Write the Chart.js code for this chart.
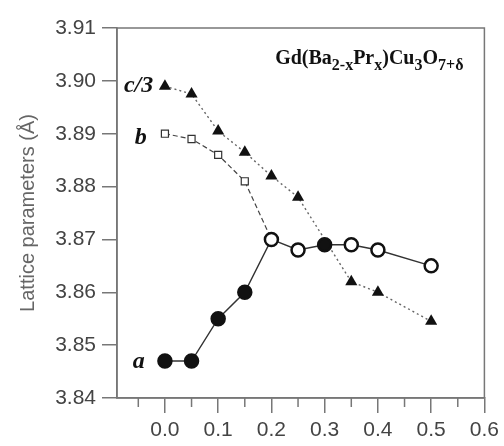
<!DOCTYPE html>
<html>
<head>
<meta charset="utf-8">
<script src="https://cdn.jsdelivr.net/npm/chart.js@4.4.1/dist/chart.umd.min.js"></script>
<style>
html, body { margin: 0; padding: 0; background: #fff; }
#wrap { width: 504px; height: 446px; }
</style>
</head>
<body>
<div id="wrap"><canvas id="chart"></canvas></div>
<script>
// Pr content x and lattice parameters (Angstrom)
const xA = [0, 0.05, 0.1, 0.15, 0.2, 0.25, 0.3, 0.35, 0.4, 0.5];
const aVals = [3.847, 3.847, 3.855, 3.860, 3.870, 3.868, 3.869, 3.869, 3.868, 3.865];
const xB = [0, 0.05, 0.1, 0.15, 0.2];
const bVals = [3.890, 3.889, 3.886, 3.881, 3.870];
const xC = [0, 0.05, 0.1, 0.15, 0.2, 0.25, 0.35, 0.4, 0.5];
const cVals = [3.899, 3.8975, 3.8905, 3.8865, 3.882, 3.878, 3.862, 3.860, 3.8545];
const seriesLabels = ['a', 'b', 'c/3'];

const xTicks = [0, 0.1, 0.2, 0.3, 0.4, 0.5, 0.6];
const xMinorTicks = [-0.05, 0.05, 0.15, 0.25, 0.35, 0.45, 0.55];
const yTicks = [3.84, 3.85, 3.86, 3.87, 3.88, 3.89, 3.90, 3.91];

// filled circles = orthorhombic a, open = tetragonal a=b
const aFilled = [true, true, true, true, false, false, true, false, false, false];

const toPts = (xs, ys) => xs.map((x, i) => ({ x: x, y: ys[i] }));

const axisColor = '#777';
const sans = '"Liberation Sans", Arial, sans-serif';

const decorations = {
  id: 'decorations',
  beforeDatasetsDraw(chart) {
    const { ctx, chartArea: ca, scales: { x } } = chart;
    ctx.save();
    ctx.strokeStyle = axisColor;
    ctx.lineWidth = 1.5;
    ctx.strokeRect(ca.left, ca.top, ca.right - ca.left, ca.bottom - ca.top);
    // minor ticks on x axis
    xMinorTicks.forEach(v => {
      const px = x.getPixelForValue(v);
      ctx.beginPath();
      ctx.moveTo(px, ca.bottom);
      ctx.lineTo(px, ca.bottom + 9);
      ctx.stroke();
    });
    ctx.restore();
  },
  afterDraw(chart) {
    const { ctx, scales: { x, y } } = chart;
    ctx.save();
    ctx.fillStyle = '#111';
    ctx.font = 'italic bold 24px "Liberation Serif", serif';
    ctx.textAlign = 'right';
    ctx.textBaseline = 'middle';
    ctx.fillText(seriesLabels[2], x.getPixelForValue(-0.022), y.getPixelForValue(cVals[0]));
    ctx.fillText(seriesLabels[1], x.getPixelForValue(-0.034), y.getPixelForValue(bVals[0] - 0.0007));
    ctx.fillText(seriesLabels[0], x.getPixelForValue(-0.038), y.getPixelForValue(aVals[0] - 0.0002));

    // compound formula with subscripts
    const parts = [
      ['Gd(Ba', 0], ['2-x', 1], ['Pr', 0], ['x', 1], [')Cu', 0], ['3', 1], ['O', 0], ['7+\u03b4', 1]
    ];
    let px = x.getPixelForValue(0.207);
    const base = y.getPixelForValue(3.9031);
    ctx.textAlign = 'left';
    ctx.textBaseline = 'alphabetic';
    parts.forEach(([t, sub]) => {
      ctx.font = sub ? 'bold 16px "Liberation Serif", serif' : 'bold 20px "Liberation Serif", serif';
      ctx.fillText(t, px, sub ? base + 6 : base);
      px += ctx.measureText(t).width;
    });
    ctx.restore();
  }
};

new Chart(document.getElementById('chart'), {
  type: 'scatter',
  data: {
    datasets: [
      {
        label: 'a',
        data: toPts(xA, aVals),
        showLine: true,
        borderColor: '#333',
        borderWidth: 1.4,
        pointStyle: 'circle',
        pointRadius: 6.5,
        pointHoverRadius: 6.5,
        pointBorderWidth: 2.5,
        pointBorderColor: '#111',
        pointBackgroundColor: ctx => aFilled[ctx.dataIndex] ? '#111' : '#fff',
        order: 1
      },
      {
        label: 'b',
        data: toPts(xB, bVals),
        showLine: true,
        borderColor: '#444',
        borderWidth: 1.2,
        borderDash: [5, 3],
        pointStyle: 'rect',
        pointRadius: 5,
        pointHoverRadius: 5,
        pointBorderWidth: 1.2,
        pointBorderColor: '#333',
        pointBackgroundColor: '#fff',
        order: 2
      },
      {
        label: 'c/3',
        data: toPts(xC, cVals),
        showLine: true,
        borderColor: '#666',
        borderWidth: 1.4,
        borderDash: [2, 3],
        pointStyle: 'triangle',
        pointRadius: 7,
        pointHoverRadius: 7,
        pointBorderWidth: 0,
        pointBackgroundColor: '#111',
        order: 3
      }
    ]
  },
  options: {
    responsive: true,
    maintainAspectRatio: false,
    animation: false,
    layout: { padding: { top: 28, right: 16, left: 0, bottom: 0 } },
    plugins: {
      legend: { display: false },
      tooltip: { enabled: false }
    },
    scales: {
      x: {
        type: 'linear',
        min: -0.09,
        max: 0.6,
        afterBuildTicks: s => { s.ticks = xTicks.map(v => ({ value: v })); },
        afterFit: s => { s.height = 48; },
        ticks: {
          color: '#444',
          font: { family: sans, size: 21 },
          padding: 5,
          maxRotation: 0,
          callback: v => v.toFixed(1)
        },
        grid: { drawOnChartArea: false, drawTicks: true, tickLength: 15, color: axisColor, lineWidth: 1.5 },
        border: { display: true, color: axisColor, width: 1.5 }
      },
      y: {
        min: 3.84,
        max: 3.91,
        afterBuildTicks: s => { s.ticks = yTicks.map(v => ({ value: v })); },
        afterFit: s => { s.width = 117; },
        ticks: {
          color: '#444',
          font: { family: sans, size: 21 },
          padding: 6,
          callback: v => v.toFixed(2)
        },
        grid: { drawOnChartArea: false, drawTicks: true, tickLength: 15, color: axisColor, lineWidth: 1.5 },
        border: { display: true, color: axisColor, width: 1.5 },
        title: {
          display: true,
          text: 'Lattice parameters (\u00c5)',
          color: '#666',
          font: { family: sans, size: 20 },
          padding: { top: 16, bottom: 0 }
        }
      }
    }
  },
  plugins: [decorations]
});
</script>
</body>
</html>
